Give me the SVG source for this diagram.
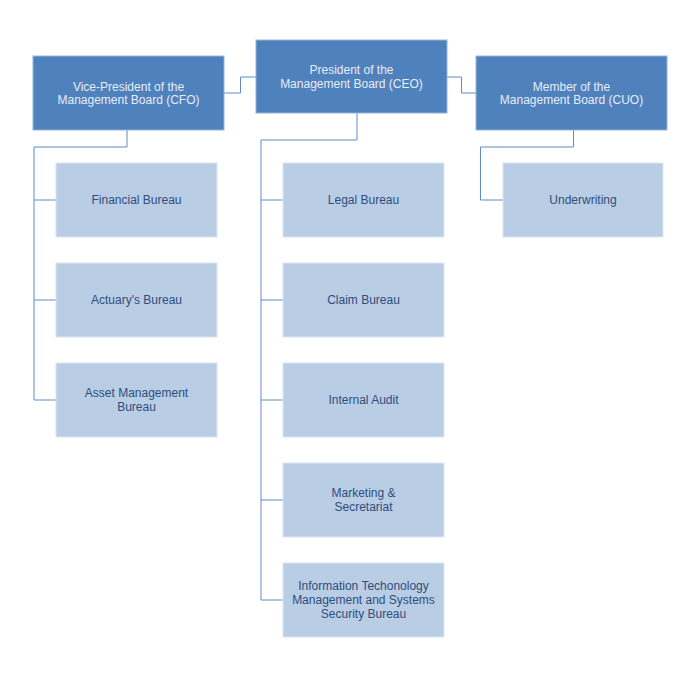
<svg xmlns="http://www.w3.org/2000/svg" width="700" height="700" viewBox="0 0 700 700">
<style>
.top{fill:#4f81bd;stroke:#95b3d7;stroke-width:1}
.sub{fill:#b9cde5;stroke:#dbe5f1;stroke-width:1}
.tt{font-family:"Liberation Sans",Arial,sans-serif;font-size:12px;fill:#e6edf7;text-anchor:middle}
.st{font-family:"Liberation Sans",Arial,sans-serif;font-size:12px;fill:#2f4e7e;text-anchor:middle}
.c{fill:none;stroke:#5d8cc8;stroke-width:1}
</style>
<rect width="700" height="700" fill="#ffffff"/>
<g id="connectors">
<polyline class="c" points="224,93 240.5,93 240.5,77 256,77"/>
<polyline class="c" points="447,77 461.5,77 461.5,93 476,93"/>
<polyline class="c" points="127,130 127,147 34,147 34,400 56,400"/>
<line class="c" x1="34" y1="200" x2="56" y2="200"/>
<line class="c" x1="34" y1="300" x2="56" y2="300"/>
<polyline class="c" points="357,113 357,140 261,140 261,600 283,600"/>
<line class="c" x1="261" y1="200" x2="283" y2="200"/>
<line class="c" x1="261" y1="300" x2="283" y2="300"/>
<line class="c" x1="261" y1="400" x2="283" y2="400"/>
<line class="c" x1="261" y1="500" x2="283" y2="500"/>
<polyline class="c" points="573.5,130 573.5,147 480.5,147 480.5,200 503,200"/>
</g>
<g id="cfo"><rect class="top" x="33" y="56" width="191" height="74"/><text class="tt" x="128.5" y="91">Vice-President of the</text><text class="tt" x="128.5" y="104">Management Board (CFO)</text></g>
<g id="ceo"><rect class="top" x="256" y="40" width="191" height="73"/><text class="tt" x="351.5" y="74">President of the</text><text class="tt" x="351.5" y="88">Management Board (CEO)</text></g>
<g id="cuo"><rect class="top" x="476" y="56" width="191" height="74"/><text class="tt" x="571.5" y="91">Member of the</text><text class="tt" x="571.5" y="104">Management Board (CUO)</text></g>
<g id="financial"><rect class="sub" x="56" y="163" width="161" height="74"/><text class="st" x="136.5" y="204">Financial Bureau</text></g>
<g id="actuary"><rect class="sub" x="56" y="263" width="161" height="74"/><text class="st" x="136.5" y="304">Actuary's Bureau</text></g>
<g id="asset"><rect class="sub" x="56" y="363" width="161" height="74"/><text class="st" x="136.5" y="397">Asset Management</text><text class="st" x="136.5" y="411">Bureau</text></g>
<g id="legal"><rect class="sub" x="283" y="163" width="161" height="74"/><text class="st" x="363.5" y="204">Legal Bureau</text></g>
<g id="claim"><rect class="sub" x="283" y="263" width="161" height="74"/><text class="st" x="363.5" y="304">Claim Bureau</text></g>
<g id="audit"><rect class="sub" x="283" y="363" width="161" height="74"/><text class="st" x="363.5" y="404">Internal Audit</text></g>
<g id="marketing"><rect class="sub" x="283" y="463" width="161" height="74"/><text class="st" x="363.5" y="497">Marketing &amp;</text><text class="st" x="363.5" y="511">Secretariat</text></g>
<g id="it"><rect class="sub" x="283" y="563" width="161" height="74"/><text class="st" x="363.5" y="590">Information Techonology</text><text class="st" x="363.5" y="604">Management and Systems</text><text class="st" x="363.5" y="618">Security Bureau</text></g>
<g id="underwriting"><rect class="sub" x="503" y="163" width="160" height="74"/><text class="st" x="583" y="204">Underwriting</text></g>
</svg>
